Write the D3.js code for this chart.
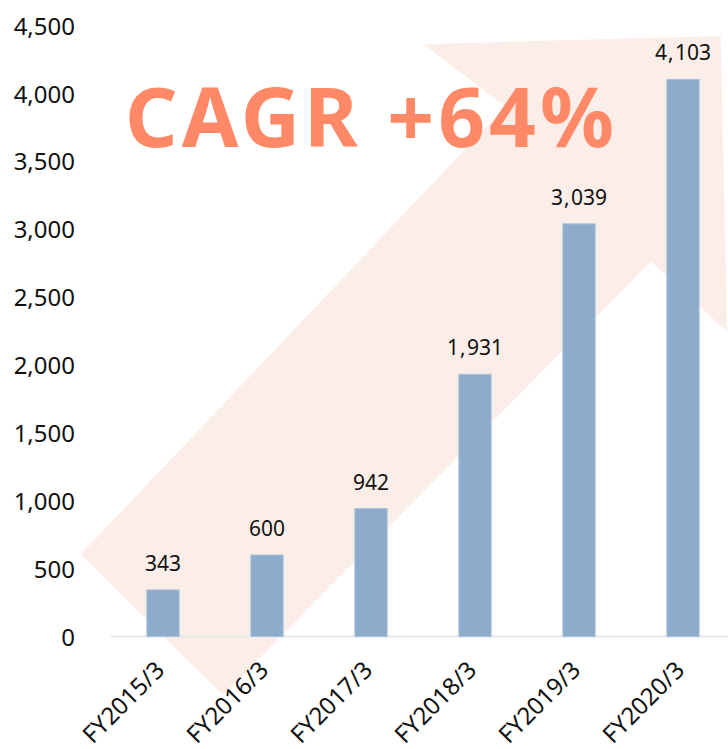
<!DOCTYPE html>
<html>
<head>
<meta charset="utf-8">
<script src="https://cdn.jsdelivr.net/npm/d3@7"></script>
<style>
  html, body { margin: 0; padding: 0; background: #ffffff; }
  svg { display: block; }
</style>
</head>
<body>
<svg id="chart" width="728" height="749"></svg>
<script>
// Fiscal years and values (bars)
const categories = ["FY2015/3", "FY2016/3", "FY2017/3", "FY2018/3", "FY2019/3", "FY2020/3"];
const values = [343, 600, 942, 1931, 3039, 4103];
const yTicks = [0, 500, 1000, 1500, 2000, 2500, 3000, 3500, 4000, 4500];
const headline = "CAGR +64%";

const W = 728, H = 749;
const svg = d3.select("#chart");

const x = d3.scaleBand()
  .domain(categories)
  .range([111, 735])
  .paddingInner(0.69)
  .paddingOuter(0.345);

const y = d3.scaleLinear()
  .domain([0, 4500])
  .range([636.5, 25.5]);

// Decorative growth arrow behind the bars (fractions of the canvas)
const arrowShape = [
  [0.582, 0.059], [0.990, 0.048], [0.999, 0.443], [0.894, 0.349],
  [0.306, 0.928], [0.111, 0.740], [0.694, 0.143]
];
svg.append("path")
  .attr("d", d3.line()(arrowShape.map(([fx, fy]) => [fx * W, fy * H])) + "Z")
  .attr("fill", "#fbeee8");

// Headline
svg.append("text")
  .attr("x", 125)
  .attr("y", 147)
  .attr("font-family", "'Noto Sans', sans-serif")
  .attr("font-weight", 700)
  .attr("font-size", 82)
  .attr("letter-spacing", 4)
  .attr("fill", "#ff8866")
  .text(headline);

// Baseline
svg.append("line")
  .attr("x1", 111).attr("x2", W)
  .attr("y1", y(0)).attr("y2", y(0))
  .attr("stroke", "#e8e8e8")
  .attr("stroke-width", 2);

// Y axis labels
const yAxis = d3.axisLeft(y).tickValues(yTicks).tickFormat(d3.format(",")).tickSize(0).tickPadding(0);
const gy = svg.append("g").attr("transform", "translate(75,0)").call(yAxis);
gy.select(".domain").remove();
gy.selectAll("text")
  .attr("font-family", "'Noto Sans', sans-serif")
  .attr("font-size", 24)
  .attr("fill", "#111")
  .attr("dy", "0.36em");

// Bars
svg.append("g").selectAll("rect")
  .data(values)
  .join("rect")
  .attr("x", (d, i) => x(categories[i]))
  .attr("width", x.bandwidth())
  .attr("y", d => y(d))
  .attr("height", d => y(0) - y(d))
  .attr("fill", "#8dabca")
  .attr("stroke", "#a9c1da")
  .attr("stroke-width", 1);

// Value labels
const fmt = d3.format(",");
const labels = svg.append("g").selectAll("text")
  .data(values)
  .join("text")
  .attr("x", (d, i) => x(categories[i]) + x.bandwidth() / 2)
  .attr("y", d => y(d) - 19)
  .attr("text-anchor", "middle")
  .attr("font-family", "'Noto Sans', sans-serif")
  .attr("font-size", 21)
  .attr("fill", "#111");
labels.each(function(d) {
  const parts = fmt(d).split(",");
  const t = d3.select(this);
  parts.forEach((p, k) => {
    if (k > 0) t.append("tspan").attr("dx", 1).text(",");
    t.append("tspan").attr("dx", k > 0 ? 1.5 : 0).text(p);
  });
});

// X axis labels, rotated
const xAxis = d3.axisBottom(x).tickSize(0).tickPadding(0);
const gx = svg.append("g").attr("transform", `translate(0,${y(0)})`).call(xAxis);
gx.select(".domain").remove();
gx.selectAll("text")
  .attr("font-family", "'Noto Sans', sans-serif")
  .attr("font-size", 24)
  .attr("fill", "#111")
  .attr("text-anchor", "end")
  .attr("dy", 0)
  .attr("y", 0)
  .attr("transform", "translate(3,35) rotate(-45)");
</script>
</body>
</html>
